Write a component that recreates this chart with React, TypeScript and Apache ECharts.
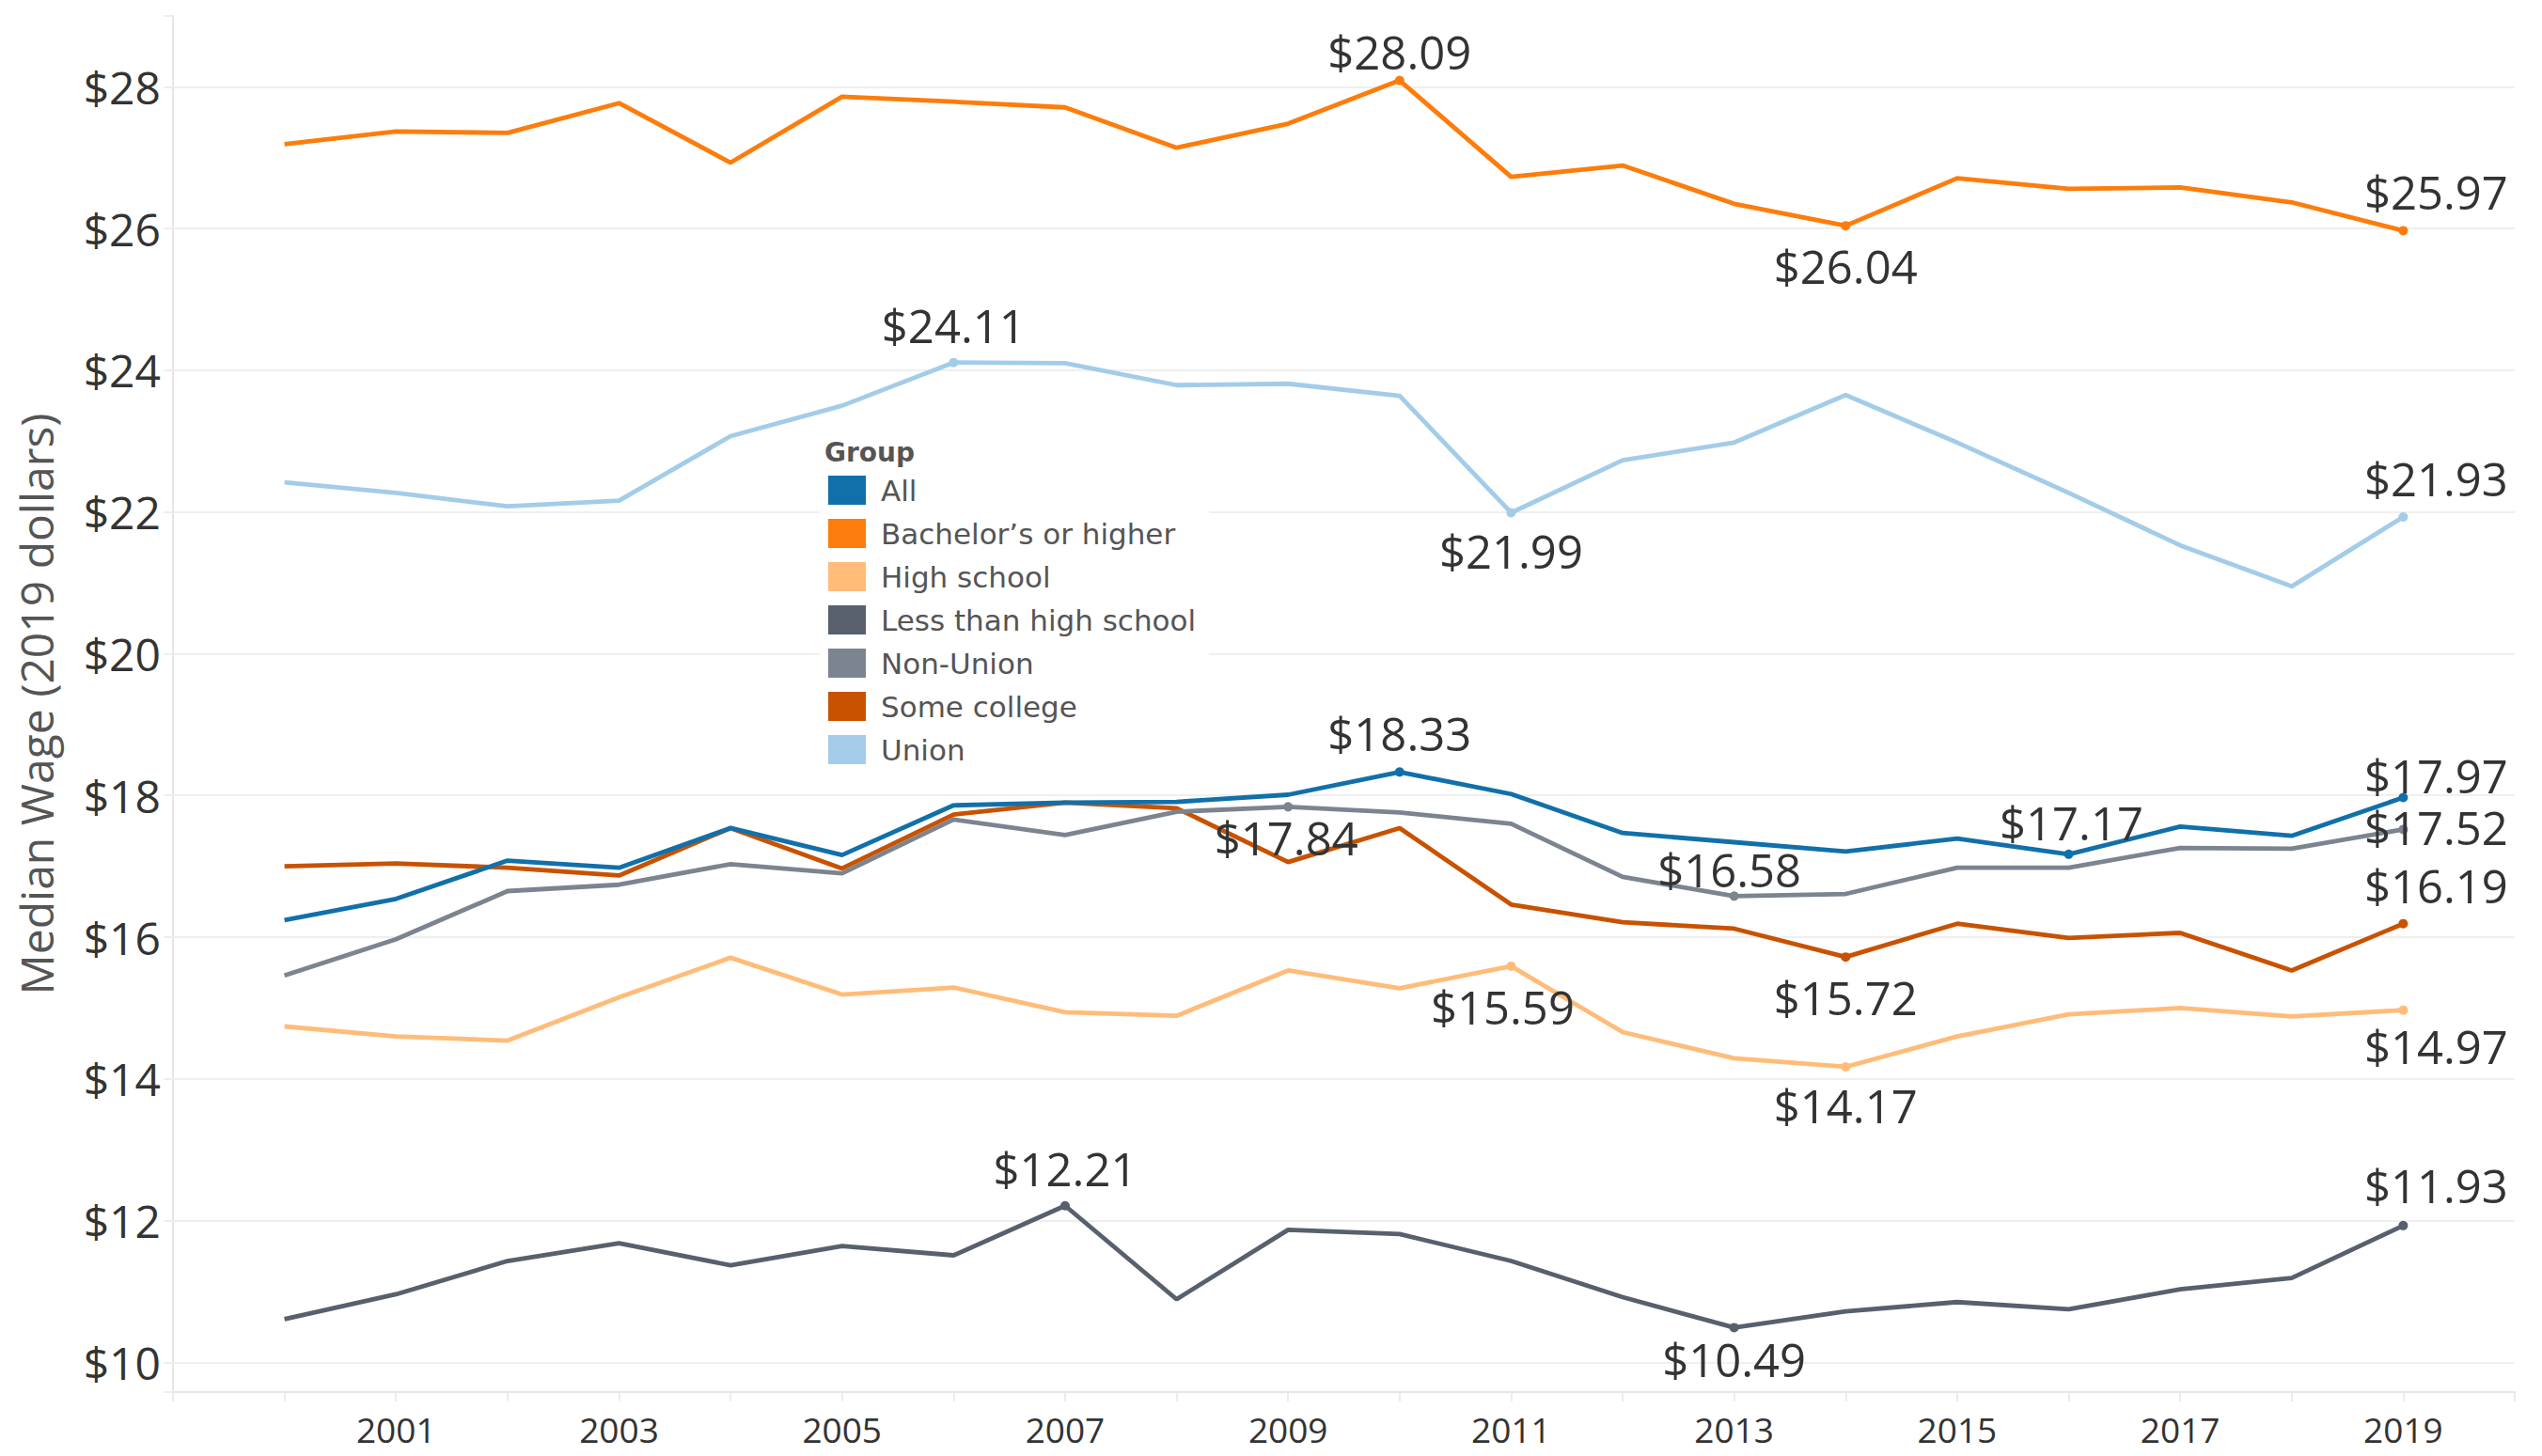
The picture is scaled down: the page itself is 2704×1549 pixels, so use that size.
import React, { useEffect, useRef } from "react";
import * as echarts from "echarts";

const years = [2000, 2001, 2002, 2003, 2004, 2005, 2006, 2007, 2008, 2009, 2010, 2011, 2012, 2013, 2014, 2015, 2016, 2017, 2018, 2019];

const allWage = [16.24, 16.54, 17.08, 16.98, 17.54, 17.16, 17.86, 17.9, 17.91, 18.01, 18.33, 18.02, 17.47, 17.34, 17.21, 17.39, 17.17, 17.56, 17.43, 17.97];
const bachelorsWage = [27.19, 27.37, 27.35, 27.77, 26.93, 27.86, 27.79, 27.71, 27.14, 27.48, 28.09, 26.73, 26.89, 26.35, 26.04, 26.71, 26.56, 26.58, 26.37, 25.97];
const highSchoolWage = [14.74, 14.6, 14.54, 15.15, 15.71, 15.19, 15.29, 14.94, 14.89, 15.53, 15.28, 15.59, 14.66, 14.29, 14.17, 14.6, 14.91, 15.0, 14.88, 14.97];
const lessThanHsWage = [10.61, 10.96, 11.43, 11.68, 11.37, 11.64, 11.51, 12.21, 10.89, 11.87, 11.81, 11.43, 10.92, 10.49, 10.72, 10.85, 10.75, 11.03, 11.19, 11.93];
const nonUnionWage = [15.46, 15.97, 16.65, 16.74, 17.03, 16.9, 17.66, 17.44, 17.77, 17.84, 17.76, 17.6, 16.85, 16.58, 16.61, 16.98, 16.98, 17.26, 17.25, 17.52];
const someCollegeWage = [17.0, 17.04, 16.98, 16.87, 17.54, 16.97, 17.73, 17.9, 17.82, 17.06, 17.54, 16.46, 16.21, 16.12, 15.72, 16.19, 15.99, 16.06, 15.53, 16.19];
const unionWage = [22.42, 22.27, 22.08, 22.16, 23.07, 23.5, 24.11, 24.1, 23.79, 23.81, 23.64, 21.99, 22.73, 22.98, 23.65, 22.98, 22.27, 21.53, 20.95, 21.93];

const legendOrder = ["All", "Bachelor\u2019s or higher", "High school", "Less than high school", "Non-Union", "Some college", "Union"];

// drawing order (last is on top)
const groups = [
  { name: "Union", values: unionWage, color: "#a3cce9" },
  { name: "Bachelor\u2019s or higher", values: bachelorsWage, color: "#fc7d0b" },
  { name: "Less than high school", values: lessThanHsWage, color: "#57606c" },
  { name: "High school", values: highSchoolWage, color: "#ffbc79" },
  { name: "Some college", values: someCollegeWage, color: "#c85200" },
  { name: "Non-Union", values: nonUnionWage, color: "#7b848f" },
  { name: "All", values: allWage, color: "#1170aa" },
];

// annotated points: label offset relative to the point (px)
const annotations: Record<string, Record<number, [number, number]>> = {
  "All": { 2010: [0, -41], 2016: [3, -34], 2019: [35, -24] },
  "Bachelor\u2019s or higher": { 2010: [0, -31], 2014: [0, 43], 2019: [35, -41] },
  "High school": { 2011: [-9, 43], 2014: [0, 41], 2019: [35, 38] },
  "Less than high school": { 2007: [0, -40], 2013: [0, 34], 2019: [35, -43] },
  "Non-Union": { 2009: [-2, 33], 2013: [-5, -28], 2019: [35, -2] },
  "Some college": { 2014: [0, 43], 2019: [35, -41] },
  "Union": { 2006: [0, -40], 2011: [0, 41], 2019: [35, -41] },
};

const xLabelYears = [2001, 2003, 2005, 2007, 2009, 2011, 2013, 2015, 2017, 2019];
const yLabelValues = [10, 12, 14, 16, 18, 20, 22, 24, 26, 28];

export default function App() {
  const ref = useRef<HTMLDivElement>(null);

  useEffect(() => {
    document.body.style.margin = "0";
    if (!ref.current) return;
    const chart = echarts.init(ref.current, null, { renderer: "svg" });

    const series = groups.map((g) => {
      const ann = annotations[g.name] || {};
      return {
        name: g.name,
        type: "line",
        color: g.color,
        showSymbol: true,
        showAllSymbol: true,
        symbol: "circle",
        lineStyle: { width: 4.8, color: g.color },
        itemStyle: { color: g.color },
        emphasis: { disabled: true },
        data: years.map((yr, i) => {
          const v = g.values[i];
          const off = ann[yr];
          if (off) {
            return {
              value: [yr, v],
              symbolSize: 10,
              label: {
                show: true,
                position: "inside",
                offset: off,
                formatter: "$" + v.toFixed(2),
                fontFamily: "Open Sans",
                fontSize: 49,
                color: "#333",
              },
            };
          }
          return { value: [yr, v], symbolSize: 0, label: { show: false } };
        }),
      };
    });

    chart.setOption({
      animation: false,
      backgroundColor: "#ffffff",
      grid: { left: 184, right: 29, top: 17, bottom: 68, containLabel: false },
      xAxis: {
        type: "value",
        min: 1999,
        max: 2020,
        interval: 1,
        axisLine: { show: true, lineStyle: { color: "#e6e6e6", width: 2 } },
        axisTick: { show: true, length: 10, lineStyle: { color: "#e6e6e6", width: 1.5 } },
        splitLine: { show: false },
        axisLabel: {
          margin: 21,
          fontFamily: "Open Sans",
          fontSize: 37,
          color: "#333",
          formatter: (v: number) => (xLabelYears.includes(v) ? String(v) : ""),
        },
      },
      yAxis: {
        type: "value",
        min: 9.58,
        max: 29,
        splitNumber: 10,
        minInterval: 2,
        maxInterval: 2,
        name: "Median Wage (2019 dollars)",
        nameLocation: "middle",
        nameGap: 122,
        nameTextStyle: { fontFamily: "Open Sans", fontSize: 48, color: "#555" },
        axisLine: { show: true, lineStyle: { color: "#e6e6e6", width: 2 } },
        axisTick: { show: true, length: 10, lineStyle: { color: "#eeeeee", width: 2 } },
        splitLine: { show: true, showMinLine: false, showMaxLine: false, lineStyle: { color: "#efefef", width: 2 } },
        axisLabel: {
          margin: 13,
          fontFamily: "Open Sans",
          fontSize: 48,
          color: "#333",
          formatter: (v: number) => (yLabelValues.includes(v) ? "$" + v : ""),
        },
      },
      legend: {
        data: legendOrder,
        orient: "vertical",
        left: 872,
        top: 457,
        padding: [49, 14, 10, 9],
        backgroundColor: "#ffffff",
        icon: "rect",
        itemWidth: 40,
        itemHeight: 31,
        itemGap: 15,
        selectedMode: false,
        textStyle: { fontFamily: "DejaVu Sans", fontSize: 31, color: "#555", padding: [0, 0, 0, 11] },
      },
      graphic: [
        {
          type: "text",
          left: 877,
          top: 467,
          z: 100,
          style: { text: "Group", fontFamily: "DejaVu Sans", fontWeight: "bold", fontSize: 28, fill: "#555" },
        },
      ],
      series,
    });

    return () => chart.dispose();
  }, []);

  return <div ref={ref} style={{ width: 2704, height: 1549 }} />;
}
